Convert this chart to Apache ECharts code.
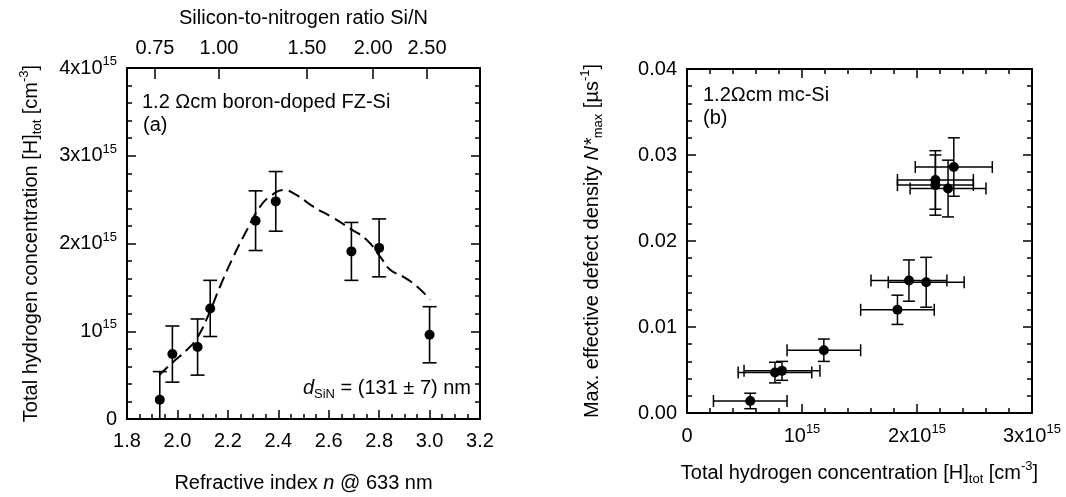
<!DOCTYPE html>
<html><head><meta charset="utf-8">
<script src="https://cdn.jsdelivr.net/npm/echarts@6/dist/echarts.min.js"></script>
<style>html,body{margin:0;padding:0;background:#fff}#c{width:1066px;height:497px}</style>
</head><body><div id="c"></div>
<script>
// ---------- Panel (a): H concentration vs refractive index ----------
const refractiveIndex = [1.93, 1.98, 2.08, 2.13, 2.31, 2.39, 2.69, 2.80, 3.00];
const hConcA = [0.22, 0.74, 0.82, 1.26, 2.26, 2.48, 1.91, 1.95, 0.96];      // x10^15 cm^-3
const hConcAErr = [0.32, 0.32, 0.32, 0.32, 0.34, 0.34, 0.33, 0.33, 0.32];
const guideN = [1.928, 1.984, 2.037, 2.077, 2.123, 2.169, 2.222, 2.275, 2.328, 2.374, 2.42, 2.473, 2.539, 2.619, 2.685, 2.751, 2.804, 2.844, 2.896, 2.95, 3.002];
const guideH = [0.50, 0.653, 0.786, 0.92, 1.185, 1.51, 1.85, 2.15, 2.42, 2.55, 2.61, 2.55, 2.42, 2.29, 2.17, 2.04, 1.85, 1.70, 1.62, 1.51, 1.36];
const siNLabels = ['0.75', '1.00', '1.50', '2.00', '2.50'];
const siNAtIndex = [1.911, 2.165, 2.514, 2.776, 2.99];

// ---------- Panel (b): N*max vs H concentration ----------
const hTotB = [0.55, 0.765, 0.826, 1.19, 1.83, 1.93, 2.08, 2.16, 2.16, 2.27, 2.32];   // x10^15 cm^-3
const hTotBErr = [0.32, 0.32, 0.33, 0.32, 0.32, 0.33, 0.33, 0.33, 0.33, 0.33, 0.335];
const nMaxB = [0.0014, 0.0047, 0.0049, 0.0073, 0.0120, 0.0154, 0.0152, 0.0271, 0.0265, 0.0261, 0.0286];
const nMaxBErr = [0.0009, 0.0012, 0.0011, 0.0013, 0.0017, 0.0024, 0.0029, 0.0034, 0.0035, 0.0033, 0.0034];

const FF = "'Liberation Sans', Arial, sans-serif";
const FS = 20;
const BLACK = '#000';
const RICH = {
  n: {fontSize: FS, lineHeight: 26, fontFamily: FF, color: BLACK},
  sup: {fontSize: 13, lineHeight: 14, verticalAlign: 'top', fontFamily: FF, color: BLACK},
  sub: {fontSize: 13, lineHeight: 14, verticalAlign: 'bottom', fontFamily: FF, color: BLACK},
  i: {fontSize: FS, lineHeight: 26, fontStyle: 'italic', fontFamily: FF, color: BLACK}
};
function powLabel(k) {
  if (k === 0) return '{n|0}';
  if (k === 1) return '{n|10}{sup|15}';
  return '{n|' + k + 'x10}{sup|15}';
}
const lineS = {color: BLACK, width: 2};
const tickS = {color: BLACK, width: 1.5};
function baseAxis(extra) {
  return Object.assign({
    axisLine: {show: true, onZero: false, lineStyle: lineS},
    axisTick: {show: true, inside: true, length: 9, lineStyle: tickS},
    minorTick: {show: true, length: 5, lineStyle: tickS},
    splitLine: {show: false},
    axisLabel: {show: true, color: BLACK, fontSize: FS, fontFamily: FF, margin: 12, rich: RICH},
    nameTextStyle: {color: BLACK, fontSize: FS, fontFamily: FF, lineHeight: 26, rich: RICH}
  }, extra);
}
function mirror(extra) {
  const a = baseAxis(extra);
  a.axisLabel = {show: false};
  a.name = '';
  return a;
}

function yErrItem(params, api) {
  const x = api.value(0), y = api.value(1), e = api.value(2);
  const t = api.coord([x, y + e]), b = api.coord([x, y - e]);
  const w = 7, st = {stroke: BLACK, lineWidth: 1.6};
  return {type: 'group', children: [
    {type: 'line', shape: {x1: t[0], y1: t[1], x2: b[0], y2: b[1]}, style: st},
    {type: 'line', shape: {x1: t[0] - w, y1: t[1], x2: t[0] + w, y2: t[1]}, style: st},
    {type: 'line', shape: {x1: b[0] - w, y1: b[1], x2: b[0] + w, y2: b[1]}, style: st}
  ]};
}
function xyErrItem(params, api) {
  const x = api.value(0), y = api.value(1), ex = api.value(2), ey = api.value(3);
  const t = api.coord([x, y + ey]), b = api.coord([x, y - ey]);
  const l = api.coord([x - ex, y]), r = api.coord([x + ex, y]);
  const w = 6, st = {stroke: BLACK, lineWidth: 1.5};
  return {type: 'group', children: [
    {type: 'line', shape: {x1: t[0], y1: t[1], x2: b[0], y2: b[1]}, style: st},
    {type: 'line', shape: {x1: t[0] - w, y1: t[1], x2: t[0] + w, y2: t[1]}, style: st},
    {type: 'line', shape: {x1: b[0] - w, y1: b[1], x2: b[0] + w, y2: b[1]}, style: st},
    {type: 'line', shape: {x1: l[0], y1: l[1], x2: r[0], y2: r[1]}, style: st},
    {type: 'line', shape: {x1: l[0], y1: l[1] - w, x2: l[0], y2: l[1] + w}, style: st},
    {type: 'line', shape: {x1: r[0], y1: r[1] - w, x2: r[0], y2: r[1] + w}, style: st}
  ]};
}

const option = {
  backgroundColor: '#fff',
  animation: false,
  grid: [
    {left: 127, top: 68, width: 353, height: 351, outerBoundsMode: 'none', containLabel: false},
    {left: 687, top: 69, width: 345, height: 344, outerBoundsMode: 'none', containLabel: false}
  ],
  xAxis: [
    baseAxis({gridIndex: 0, type: 'value', position: 'bottom', min: 1.8, max: 3.2, interval: 0.2,
      minorTick: {show: true, splitNumber: 4, length: 5, lineStyle: tickS},
      axisLabel: {show: true, color: BLACK, fontSize: FS, fontFamily: FF, margin: 12,
        formatter: function (v) { return v.toFixed(1); }},
      name: 'Refractive index {i|n} @ 633 nm', nameLocation: 'middle', nameGap: 51}),
    (function () {
      const a = baseAxis({gridIndex: 0, type: 'value', position: 'top', min: 1.8, max: 3.2,
        name: 'Silicon-to-nitrogen ratio Si/N', nameLocation: 'middle', nameGap: 37});
      a.axisTick = {show: true, inside: true, length: 11, lineStyle: tickS, customValues: siNAtIndex};
      a.minorTick = {show: false};
      a.axisLabel = {show: true, color: BLACK, fontSize: FS, fontFamily: FF, margin: 10, customValues: siNAtIndex,
        formatter: function (v) {
          let best = 0;
          siNAtIndex.forEach(function (p, i) { if (Math.abs(p - v) < Math.abs(siNAtIndex[best] - v)) best = i; });
          return siNLabels[best];
        }};
      return a;
    })(),
    baseAxis({gridIndex: 1, type: 'value', position: 'bottom', min: 0, max: 3, interval: 1,
      minorTick: {show: true, splitNumber: 5, length: 5, lineStyle: tickS},
      axisLabel: {show: true, color: BLACK, fontSize: FS, fontFamily: FF, margin: 10, rich: RICH,
        formatter: function (v) { return powLabel(Math.round(v)); }},
      name: 'Total hydrogen concentration [H]{sub|tot} [cm{sup|-3}]', nameLocation: 'middle', nameGap: 47}),
    mirror({gridIndex: 1, type: 'value', position: 'top', min: 0, max: 3, interval: 1,
      minorTick: {show: true, splitNumber: 5, length: 5, lineStyle: tickS}})
  ],
  yAxis: [
    baseAxis({gridIndex: 0, type: 'value', position: 'left', min: 0, max: 4, interval: 1,
      minorTick: {show: true, splitNumber: 5, length: 5, lineStyle: tickS},
      axisLabel: {show: true, color: BLACK, fontSize: FS, fontFamily: FF, margin: 10, rich: RICH,
        formatter: function (v) { return powLabel(Math.round(v)); }},
      name: 'Total hydrogen concentration [H]{sub|tot} [cm{sup|-3}]', nameLocation: 'middle', nameGap: 83}),
    mirror({gridIndex: 0, type: 'value', position: 'right', min: 0, max: 4, interval: 1,
      minorTick: {show: true, splitNumber: 5, length: 5, lineStyle: tickS}}),
    baseAxis({gridIndex: 1, type: 'value', position: 'left', min: 0, max: 0.04, interval: 0.01,
      minorTick: {show: true, splitNumber: 5, length: 5, lineStyle: tickS},
      axisLabel: {show: true, color: BLACK, fontSize: FS, fontFamily: FF, margin: 10,
        formatter: function (v) { return v.toFixed(2); }},
      name: 'Max. effective defect density {i|N*}{sub|max} [µs{sup|-1}]', nameLocation: 'middle', nameGap: 82}),
    mirror({gridIndex: 1, type: 'value', position: 'right', min: 0, max: 0.04, interval: 0.01,
      minorTick: {show: true, splitNumber: 5, length: 5, lineStyle: tickS}})
  ],
  series: [
    {type: 'line', xAxisIndex: 0, yAxisIndex: 0, smooth: true, symbol: 'none', silent: true,
      data: guideN.map(function (n, i) { return [n, guideH[i]]; }),
      lineStyle: {color: BLACK, width: 2, type: [12, 6]}, z: 2},
    {type: 'custom', xAxisIndex: 0, yAxisIndex: 0, clip: true, renderItem: yErrItem,
      encode: {x: 0, y: 1},
      data: refractiveIndex.map(function (n, i) { return [n, hConcA[i], hConcAErr[i]]; }), z: 3},
    {type: 'scatter', xAxisIndex: 0, yAxisIndex: 0, symbol: 'circle', symbolSize: 10,
      itemStyle: {color: BLACK, opacity: 1}, data: refractiveIndex.map(function (n, i) { return [n, hConcA[i]]; }), z: 4},
    {type: 'custom', xAxisIndex: 2, yAxisIndex: 2, clip: true, renderItem: xyErrItem,
      encode: {x: 0, y: 1},
      data: hTotB.map(function (h, i) { return [h, nMaxB[i], hTotBErr[i], nMaxBErr[i]]; }), z: 3},
    {type: 'scatter', xAxisIndex: 2, yAxisIndex: 2, symbol: 'circle', symbolSize: 10,
      itemStyle: {color: BLACK, opacity: 1}, data: hTotB.map(function (h, i) { return [h, nMaxB[i]]; }), z: 4}
  ],
  graphic: [
    {type: 'text', left: 142, top: 92, style: {text: '1.2 Ωcm boron-doped FZ-Si', font: FS + 'px ' + FF, fill: BLACK}},
    {type: 'text', left: 143, top: 115, style: {text: '(a)', font: FS + 'px ' + FF, fill: BLACK}},
    {type: 'text', right: 1066 - 471, top: 378, style: {text: '{i|d}{sub|SiN}{n| = (131 ± 7) nm}', rich: RICH, font: FS + 'px ' + FF, fill: BLACK}},
    {type: 'text', left: 703, top: 85, style: {text: '1.2Ωcm mc-Si', font: FS + 'px ' + FF, fill: BLACK}},
    {type: 'text', left: 703, top: 108, style: {text: '(b)', font: FS + 'px ' + FF, fill: BLACK}}
  ]
};
const chart = echarts.init(document.getElementById('c'), null, {renderer: 'canvas'});
chart.setOption(option);
</script>
</body></html>
